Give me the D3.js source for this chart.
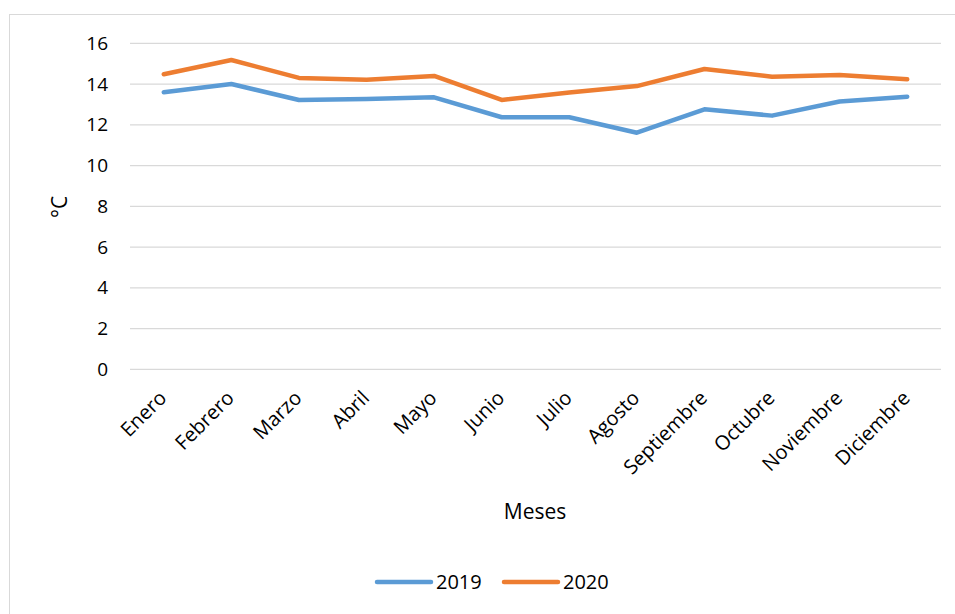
<!DOCTYPE html>
<html lang="es">
<head>
<meta charset="UTF-8">
<title>Temperatura mensual</title>
<script src="https://d3js.org/d3.v7.min.js"></script>
<style>
  body { margin: 0; background: #fff; }
  svg { display: block; font-family: "Open Sans", "Noto Sans", sans-serif; }
</style>
</head>
<body>
<svg width="955" height="614"></svg>
<script>
// data
const months = ["Enero", "Febrero", "Marzo", "Abril", "Mayo", "Junio", "Julio",
                "Agosto", "Septiembre", "Octubre", "Noviembre", "Diciembre"];
const temp2019 = [13.6, 14.0, 13.22, 13.27, 13.35, 12.37, 12.37, 11.61, 12.76, 12.45, 13.14, 13.38];
const temp2020 = [14.48, 15.18, 14.3, 14.21, 14.4, 13.22, 13.58, 13.9, 14.74, 14.36, 14.44, 14.23];
const yTicks = [0, 2, 4, 6, 8, 10, 12, 14, 16];

const series = [
  { name: "2019", values: temp2019, color: "#5B9BD5" },
  { name: "2020", values: temp2020, color: "#ED7D31" }
];

const svg = d3.select("svg");

// outer chart frame
svg.append("rect")
  .attr("x", 9.5).attr("y", 14.5)
  .attr("width", 960).attr("height", 620)
  .attr("fill", "none").attr("stroke", "#d9d9d9");

const plot = { left: 130, right: 941, top: 43.3, bottom: 369.3 };

const x = d3.scaleBand().domain(months).range([plot.left, plot.right]);
const y = d3.scaleLinear().domain([0, 16]).range([plot.bottom, plot.top]);

// gridlines
svg.append("g")
  .selectAll("line")
  .data(yTicks)
  .join("line")
  .attr("x1", plot.left).attr("x2", plot.right)
  .attr("y1", d => y(d)).attr("y2", d => y(d))
  .attr("stroke", "#d9d9d9").attr("stroke-width", 1.3);

// y axis labels
const yAxis = svg.append("g")
  .attr("transform", `translate(${plot.left - 22},0)`)
  .call(d3.axisLeft(y).tickValues(yTicks).tickSize(0).tickPadding(0));
yAxis.select(".domain").remove();
yAxis.selectAll("text")
  .attr("font-size", 19).attr("fill", "#000")
  .attr("font-family", "'Open Sans', sans-serif");

// x axis labels (rotated)
svg.append("g")
  .selectAll("text")
  .data(months)
  .join("text")
  .attr("transform", d => `translate(${x(d) + x.bandwidth() / 2 - 1},${plot.bottom + 25}) rotate(-45)`)
  .attr("text-anchor", "end")
  .attr("dy", "0.35em")
  .attr("font-size", 20)
  .text(d => d);

// lines
const line = d3.line()
  .x((d, i) => x(months[i]) + x.bandwidth() / 2)
  .y(d => y(d));

svg.append("g")
  .selectAll("path")
  .data(series)
  .join("path")
  .attr("d", d => line(d.values))
  .attr("fill", "none")
  .attr("stroke", d => d.color)
  .attr("stroke-width", 4.5)
  .attr("stroke-linecap", "round")
  .attr("stroke-linejoin", "round");

// axis titles
svg.append("text")
  .attr("x", 535).attr("y", 519)
  .attr("text-anchor", "middle")
  .attr("font-size", 21)
  .text("Meses");

svg.append("text")
  .attr("transform", "translate(67,207) rotate(-90)")
  .attr("text-anchor", "middle")
  .attr("font-size", 21)
  .text("°C");

// legend
const legend = svg.append("g")
  .selectAll("g")
  .data(series)
  .join("g")
  .attr("transform", (d, i) => `translate(${377 + i * 127},582)`);
legend.append("line")
  .attr("x1", 0).attr("x2", 54)
  .attr("stroke", d => d.color)
  .attr("stroke-width", 4.5)
  .attr("stroke-linecap", "round");
legend.append("text")
  .attr("x", 59).attr("dy", "0.35em")
  .attr("font-size", 20)
  .text(d => d.name);
</script>
</body>
</html>
